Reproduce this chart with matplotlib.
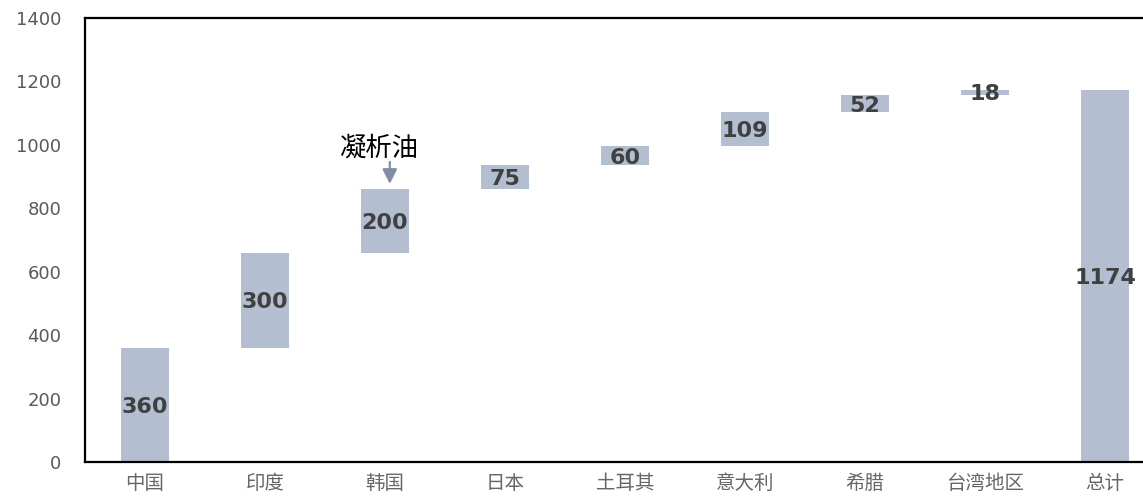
import numpy as np
import matplotlib.pyplot as plt

plt.rcParams['font.family'] = ['DejaVu Sans', 'Noto Sans CJK SC']

# 各地区增量（最后一项为总计）
regions = ['中国', '印度', '韩国', '日本', '土耳其', '意大利', '希腊', '台湾地区', '总计']
increments = [360, 300, 200, 75, 60, 109, 52, 18]
total = 1174

heights = increments + [total]
bottoms = list(np.concatenate([[0], np.cumsum(increments)[:-1]])) + [0]

bar_color = '#b3bfd0'
label_color = '#404040'

fig = plt.figure(figsize=(11.43, 4.97), dpi=100)
ax = fig.add_axes([85 / 1143, 1 - 462 / 497, 1080 / 1143, 444 / 497])

x = np.arange(len(regions))
ax.bar(x, heights, bottom=bottoms, width=0.4, color=bar_color, zorder=2)

for xi, h, b in zip(x, heights, bottoms):
    ax.text(xi, b + h / 2 - 6, str(h), ha='center', va='center',
            fontsize=16, fontweight='bold', color=label_color, zorder=3)

# 韩国柱上方的标注
korea = regions.index('韩国')
top_k = bottoms[korea] + heights[korea]
ax.annotate('', xy=(korea + 0.04, top_k + 8), xytext=(korea + 0.04, top_k + 95),
            arrowprops=dict(arrowstyle='-|>', color='#7f8fa9', lw=1.6,
                            mutation_scale=22))
ax.text(korea - 0.05, 990, '凝析油', ha='center', va='center',
        fontsize=19, color='black', family=['Noto Sans CJK SC'])

ax.set_xlim(-0.5, 8.5)
ax.set_ylim(0, 1400)
ax.set_yticks(range(0, 1401, 200))
ax.set_xticks(x)
ax.set_xticklabels(regions, family=['Noto Sans CJK SC'], fontsize=14,
                   color='#666666')
ax.tick_params(axis='y', length=0, pad=17, labelsize=13, labelcolor='#595959')
ax.tick_params(axis='x', length=0, pad=8)

for side in ['left', 'top', 'bottom']:
    ax.spines[side].set_linewidth(1.6)
    ax.spines[side].set_color('black')
ax.spines['right'].set_visible(False)

fig.savefig('out.png', dpi=100)
